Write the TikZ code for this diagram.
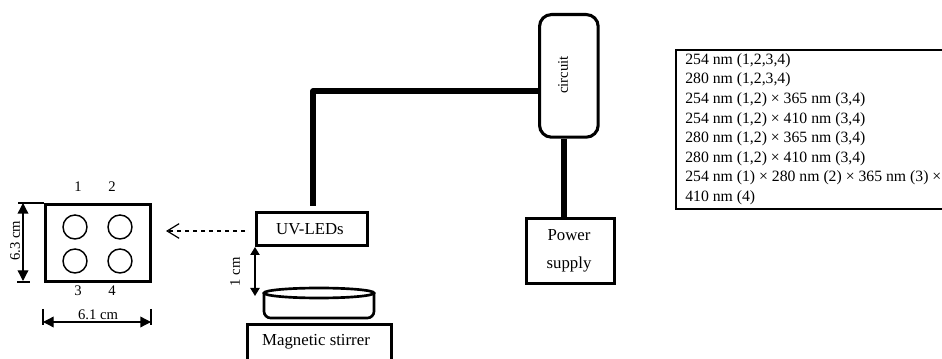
\documentclass[tikz,border=0pt]{standalone}
\usepackage{fontspec}
\setmainfont{Liberation Serif}
\usetikzlibrary{arrows.meta}
\tikzset{
  x=0.75pt,y=-0.75pt,
  box/.style={draw,line width=2.3pt,inner sep=0pt,anchor=north west,align=center},
  wire/.style={line width=3.8pt},
  well/.style={circle,draw,line width=1.1pt,minimum size=18pt,inner sep=0pt},
  lbl/.style={font=\fontsize{11pt}{13pt}\selectfont,inner sep=0pt},
  big/.style={font=\fontsize{12.6pt}{14pt}\selectfont,inner sep=0pt},
  dim/.style={line width=1pt,{Triangle[length=8pt,width=8pt]}-{Triangle[length=8pt,width=8pt]}},
  row/.style={font=\fontsize{11.8pt}{13pt}\selectfont,anchor=west,inner sep=0pt}
}
\begin{document}
\begin{tikzpicture}
\useasboundingbox (0,0) rectangle (942,359);
\clip (0,0) rectangle (942,359);
% plate
\node[box,minimum width=79pt,minimum height=57.5pt] (plate) at (44,203) {};
\node[well] (w1) at (75,227) {};
\node[well] (w2) at (120,227) {};
\node[well] (w3) at (75,261) {};
\node[well] (w4) at (120,261) {};
\node[lbl] (n1) at (78,187) {1};
\node[lbl] (n2) at (112,187) {2};
\node[lbl] (n3) at (78,291) {3};
\node[lbl] (n4) at (112,291) {4};
% height dimension
\coordinate (ht) at (18,203);
\coordinate (hb) at (17,282);
\coordinate (hbe) at (30,282);
\coordinate (ha) at (23,203);
\coordinate (hz) at (23,281);
\draw[line width=0.9pt] (ht) -- (plate.north west);
\draw[line width=0.9pt] (hb) -- (hbe);
\draw[dim] (ha) -- (hz);
\node[lbl,rotate=90] (hl) at (15,241) {6.3 cm};
% width dimension
\coordinate (wl1) at (43,309);
\coordinate (wl2) at (43,325);
\coordinate (wr1) at (151,309);
\coordinate (wr2) at (151,325);
\coordinate (wa) at (43,322);
\coordinate (wz) at (151,322);
\draw[line width=0.9pt] (wl1) -- (wl2);
\draw[line width=0.9pt] (wr1) -- (wr2);
\draw[dim] (wa) -- (wz);
\node[lbl] (wlab) at (98,315) {6.1 cm};
% LEDs
\node[box,minimum width=83pt,minimum height=25pt] (led) at (255,211) {};
\node[big] (ledt) at (310,229) {UV-LEDs};
\coordinate (da) at (245,231);
\coordinate (dz) at (166,231);
\draw[line width=0.9pt,dashed,-{Straight Barb[length=9pt,width=11pt,line width=0.9pt]}] (da) -- (dz);
% 1 cm
\coordinate (oa) at (255,247);
\coordinate (oz) at (255,296);
\draw[line width=0.9pt,{Triangle[length=6pt,width=7pt]}-{Triangle[length=6pt,width=7pt]}] (oa) -- (oz);
\node[lbl,rotate=90] (ol) at (235,272) {1 cm};
% stirrer
\node[box,minimum width=108pt,minimum height=45pt] (st) at (246,323) {};
\node[big] (stt) at (316,342) {Magnetic stirrer};
% dish
\draw[line width=2pt,rounded corners=5pt] (264,293) -- (264,318) -- (374,318) -- (374,293);
\draw[line width=2pt,fill=white] (319,293) ellipse [x radius=55,y radius=5];
% circuit
\node[box,rounded corners=9pt,minimum width=44pt,minimum height=92pt] (cir) at (538,13) {};
\node[lbl,rotate=90] (cirt) at (563,75) {circuit};
% power
\node[box,minimum width=66pt,minimum height=49pt] (pw) at (525,217) {};
\node[big] (pw1) at (569,235) {Power};
\node[big] (pw2) at (569,264) {supply};
% wires
\coordinate (wled) at (313,206);
\coordinate (wbend) at (313,91);
\draw[wire,line join=round] (wled) -- (wbend) -- (wbend -| cir.west);
\coordinate (wcb) at (564,137);
\draw[wire] (cir.south -| wcb) -- (pw.north -| wcb);
% table
\node[draw,line width=1.4pt,anchor=north west,minimum width=225pt,minimum height=119pt,inner sep=0pt] (tb) at (675,49) {};
\node[row] (r1) at (685,60.5) {254 nm (1,2,3,4)};
\node[row] (r2) at (685,80) {280 nm (1,2,3,4)};
\node[row] (r3) at (685,99.5) {254 nm (1,2) × 365 nm (3,4)};
\node[row] (r4) at (685,119.5) {254 nm (1,2) × 410 nm (3,4)};
\node[row] (r5) at (685,139) {280 nm (1,2) × 365 nm (3,4)};
\node[row] (r6) at (685,158.5) {280 nm (1,2) × 410 nm (3,4)};
\node[row] (r7) at (685,178) {254 nm (1) × 280 nm (2) × 365 nm (3) ×};
\node[row] (r8) at (685,197.5) {410 nm (4)};
\end{tikzpicture}
\end{document}
